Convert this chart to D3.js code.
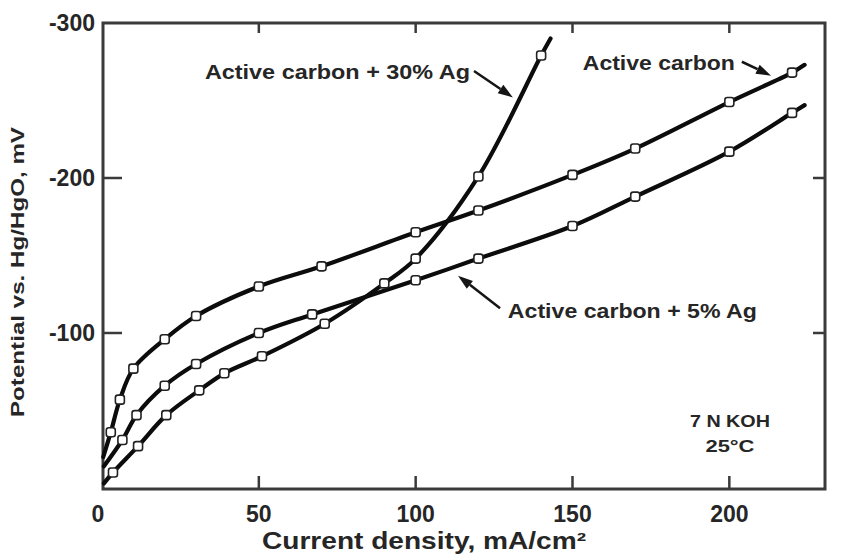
<!DOCTYPE html>
<html>
<head>
<meta charset="utf-8">
<script src="https://cdn.jsdelivr.net/npm/d3@7"></script>
<style>
  html, body { margin: 0; padding: 0; background: #fff; }
  svg { display: block; }
  text { font-family: "Liberation Sans", Arial, Helvetica, sans-serif; font-weight: bold; fill: #262626; }
</style>
</head>
<body>
<svg id="chart" width="842" height="558"></svg>
<script>
// ---- Data (current density mA/cm^2, potential mV vs Hg/HgO) ----
const acX   = [2.8, 5.7, 10, 20, 30, 50, 70, 100, 120, 150, 170, 200, 220];
const acY   = [-36, -57, -77, -96, -111, -130, -143, -165, -179, -202, -219, -249, -268];
const ag5X  = [6.5, 11, 20, 30, 50, 67, 100, 120, 150, 170, 200, 220];
const ag5Y  = [-31, -47, -66, -80, -100, -112, -134, -148, -169, -188, -217, -242];
const ag30X = [3.5, 11.5, 20.5, 31, 39, 51, 71, 90, 100, 120, 140];
const ag30Y = [-10, -27, -47, -63, -74, -85, -106, -132, -148, -201, -279];
// line start/end extensions (curve only, no markers)
const acLineStart = [0.4, -20],  acLineEnd = [224, -273];
const ag5LineStart = [0.6, -14], ag5LineEnd = [224, -247];
const ag30LineStart = [0.6, -3], ag30LineEnd = [143, -290];

const xTicks = [0, 50, 100, 150, 200];
const yTicks = [-300, -200, -100];
const xTitle = "Current density, mA/cm\u00B2";
const yTitle = "Potential vs. Hg/HgO, mV";

// ---- Layout ----
const svg = d3.select("#chart");
const x = d3.scaleLinear().domain([0, 230.5]).range([102, 825]);
const y = d3.scaleLinear().domain([0, -300]).range([488, 23]);

// frame
svg.append("rect")
  .attr("x", x.range()[0] + 1).attr("y", y.range()[1])
  .attr("width", x.range()[1] - x.range()[0] - 1).attr("height", y.range()[0] - y.range()[1] + 1)
  .attr("fill", "none").attr("stroke", "#3a3a3a").attr("stroke-width", 3);

// ticks (inward)
const tickStyle = g => g.attr("stroke", "#3a3a3a").attr("stroke-width", 2.5);
svg.append("g").selectAll("line").data([50, 100, 150, 200]).join("line")
  .attr("x1", d => x(d)).attr("x2", d => x(d))
  .attr("y1", y(0)).attr("y2", y(0) - 12).call(tickStyle);
svg.append("g").selectAll("line").data([50, 100, 150, 200]).join("line")
  .attr("x1", d => x(d)).attr("x2", d => x(d))
  .attr("y1", y(-300)).attr("y2", y(-300) + 10).call(tickStyle);
svg.append("g").selectAll("line").data([-200, -100]).join("line")
  .attr("x1", x(0)).attr("x2", x(0) + 20)
  .attr("y1", d => y(d)).attr("y2", d => y(d)).call(tickStyle);
svg.append("g").selectAll("line").data([-200, -100]).join("line")
  .attr("x1", x(230.5)).attr("x2", x(230.5) - 12)
  .attr("y1", d => y(d)).attr("y2", d => y(d)).call(tickStyle);

// tick labels
svg.append("g").selectAll("text").data(xTicks).join("text")
  .attr("x", d => x(d) - (d === 0 ? 4 : 0)).attr("y", 522)
  .attr("text-anchor", "middle").attr("font-size", 23).text(d => d);
svg.append("g").selectAll("text").data(yTicks).join("text")
  .attr("x", 95).attr("y", d => y(d) + 8)
  .attr("text-anchor", "end").attr("font-size", 23).text(d => d);

// axis titles
svg.append("text").attr("x", 262).attr("y", 549).attr("font-size", 23)
  .attr("textLength", 324).attr("lengthAdjust", "spacingAndGlyphs").text(xTitle);
svg.append("text")
  .attr("transform", "translate(24,272) rotate(-90)")
  .attr("text-anchor", "middle").attr("font-size", 19)
  .attr("textLength", 290).attr("lengthAdjust", "spacingAndGlyphs").text(yTitle);

// series
const series = [
  { xs: acX, ys: acY, s: acLineStart, e: acLineEnd },
  { xs: ag5X, ys: ag5Y, s: ag5LineStart, e: ag5LineEnd },
  { xs: ag30X, ys: ag30Y, s: ag30LineStart, e: ag30LineEnd }
];
const line = d3.line().x(d => x(d[0])).y(d => y(d[1])).curve(d3.curveCatmullRom.alpha(0.5));
series.forEach(sr => {
  const pts = sr.xs.map((v, i) => [v, sr.ys[i]]);
  svg.append("path").datum([sr.s, ...pts, sr.e]).attr("d", line)
    .attr("fill", "none").attr("stroke", "#0c0c0c").attr("stroke-width", 4.2)
    .attr("stroke-linecap", "round");
});
series.forEach(sr => {
  const pts = sr.xs.map((v, i) => [v, sr.ys[i]]);
  svg.append("g").selectAll("rect").data(pts).join("rect")
    .attr("x", d => x(d[0]) - 4.5).attr("y", d => y(d[1]) - 4.5)
    .attr("width", 9).attr("height", 9).attr("rx", 2.5)
    .attr("fill", "#fff").attr("stroke", "#222").attr("stroke-width", 1.6);
});

// annotations (data coordinates)
const labels = [
  { t: "Active carbon + 30% Ag", x: 117.3, y: -264, anchor: "end", len: 265, size: 21 },
  { t: "Active carbon", x: 153.3, y: -270, anchor: "start", len: 152, size: 21 },
  { t: "Active carbon + 5% Ag", x: 129.4, y: -110, anchor: "start", len: 249, size: 21 },
  { t: "7 N KOH", x: 200.2, y: -39.4, anchor: "middle", len: 80, size: 16 },
  { t: "25\u00B0C", x: 200.2, y: -23.2, anchor: "middle", len: 49, size: 16 }
];
svg.append("g").selectAll("text").data(labels).join("text")
  .attr("x", d => x(d.x)).attr("y", d => y(d.y))
  .attr("text-anchor", d => d.anchor).attr("font-size", d => d.size)
  .attr("textLength", d => d.len).attr("lengthAdjust", "spacingAndGlyphs")
  .text(d => d.t);

const arrows = [
  { from: [118.6, -269], to: [131, -252] },
  { from: [204, -275], to: [213.3, -266] },
  { from: [126.9, -116], to: [113.5, -137] }
];
arrows.forEach(a => {
  const x1 = x(a.from[0]), y1 = y(a.from[1]), x2 = x(a.to[0]), y2 = y(a.to[1]);
  const ang = Math.atan2(y2 - y1, x2 - x1);
  const hl = 15, hw = 5;
  const bx = x2 - hl * Math.cos(ang), by = y2 - hl * Math.sin(ang);
  svg.append("line").attr("x1", x1).attr("y1", y1).attr("x2", bx).attr("y2", by)
    .attr("stroke", "#151515").attr("stroke-width", 2.5);
  svg.append("path")
    .attr("d", `M${x2},${y2}L${bx - hw * Math.sin(ang)},${by + hw * Math.cos(ang)}L${bx + hw * Math.sin(ang)},${by - hw * Math.cos(ang)}Z`)
    .attr("fill", "#151515");
});
</script>
</body>
</html>
